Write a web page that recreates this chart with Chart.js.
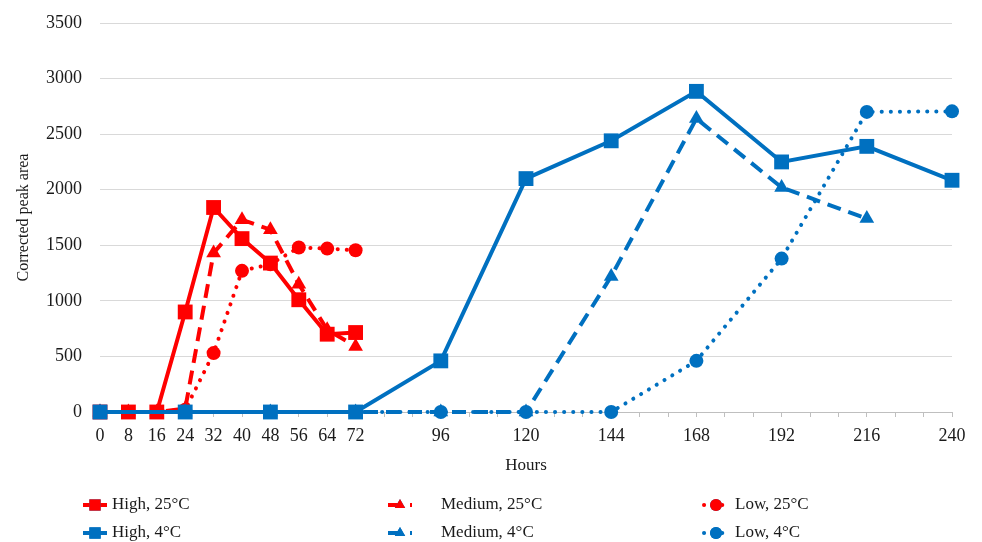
<!DOCTYPE html>
<html>
<head>
<meta charset="utf-8">
<script src="https://cdn.jsdelivr.net/npm/chart.js@4"></script>
<style>
  body { margin: 0; background: #fff; }
  #wrap { width: 982px; height: 542px; }
</style>
</head>
<body>
<div id="wrap"><canvas id="chart" width="982" height="542"></canvas></div>
<script>
// hours sampled for each temperature
var hours25 = [0, 8, 16, 24, 32, 40, 48, 56, 64, 72];
var hours4 = [0, 24, 48, 72, 96, 120, 144, 168, 192, 216, 240];

// corrected peak area values
var high25 = [0, 0, 0, 900, 1840, 1560, 1340, 1010, 700, 715];
var medium25 = [0, 0, 0, 30, 1430, 1730, 1640, 1150, 740, 590];
var low25 = [0, 0, 0, 20, 530, 1270, 1330, 1480, 1470, 1455];
var high4 = [0, 0, 0, 0, 460, 2100, 2440, 2885, 2250, 2390, 2085];
var medium4 = [0, 0, 0, 0, 0, 0, 1220, 2640, 2020, 1740, null];
var low4 = [0, 0, 0, 0, 0, 0, 0, 460, 1380, 2700, 2705];

// labelled hours on the x axis (tick marks every 8 h)
var xLabels = [0, 8, 16, 24, 32, 40, 48, 56, 64, 72, 96, 120, 144, 168, 192, 216, 240];

var RED = '#ff0000';
var BLUE = '#0070c0';
var FONT = "'Liberation Serif', 'Times New Roman', serif";

function pts(xs, ys) {
  var out = [];
  for (var i = 0; i < xs.length; i++) {
    if (ys[i] !== null) out.push({x: xs[i], y: ys[i]});
  }
  return out;
}

function series(label, xs, ys, color, style, kind, order) {
  var r = 7;
  if (style == 'rect') r = 10.5;
  if (style == 'triangle') r = 8.5;
  var ds = {
    label: label,
    data: pts(xs, ys),
    borderColor: color,
    backgroundColor: color,
    pointBackgroundColor: color,
    pointBorderColor: color,
    pointBorderWidth: 0,
    borderWidth: 4,
    pointStyle: style,
    pointRadius: r,
    pointHoverRadius: r,
    tension: 0,
    fill: false,
    clip: false,
    order: order
  };
  if (kind == 'dash') {
    ds.borderDash = [14, 8];
  } else if (kind == 'dot') {
    ds.borderDash = [0.1, 9];
    ds.borderCapStyle = 'round';
  }
  return ds;
}

// draw the legend in a 3 x 2 grid below the axis
var gridLegend = {
  id: 'gridLegend',
  afterDraw: function(chart) {
    var ctx = chart.ctx;
    var markX = [95, 400, 716];
    var textX = [112, 441, 735];
    var rowY = [505, 533];
    chart.data.datasets.forEach(function(ds, i) {
      var col = i % 3, row = Math.floor(i / 3);
      var cx = markX[col], cy = rowY[row];
      ctx.save();
      ctx.strokeStyle = ds.borderColor;
      ctx.lineWidth = ds.borderWidth;
      ctx.lineCap = ds.borderCapStyle || 'butt';
      ctx.setLineDash(ds.borderDash || []);
      ctx.beginPath();
      ctx.moveTo(cx - 12, cy);
      ctx.lineTo(cx + 12, cy);
      ctx.stroke();
      ctx.setLineDash([]);
      var mr = ds.pointStyle == 'rect' ? 8 : 6;
      Chart.helpers.drawPoint(ctx, {pointStyle: ds.pointStyle, radius: mr, borderWidth: 0}, cx, cy);
      ctx.fillStyle = ds.pointBackgroundColor;
      ctx.fill();
      ctx.fillStyle = '#1a1a1a';
      ctx.font = '17px ' + FONT;
      ctx.textBaseline = 'middle';
      ctx.fillText(ds.label, textX[col], cy);
      ctx.restore();
    });
  }
};

var config = {
  type: 'line',
  data: {
    datasets: [
      series('High, 25°C', hours25, high25, RED, 'rect', 'solid', 6),
      series('Medium, 25°C', hours25, medium25, RED, 'triangle', 'dash', 5),
      series('Low, 25°C', hours25, low25, RED, 'circle', 'dot', 4),
      series('High, 4°C', hours4, high4, BLUE, 'rect', 'solid', 1),
      series('Medium, 4°C', hours4, medium4, BLUE, 'triangle', 'dash', 3),
      series('Low, 4°C', hours4, low4, BLUE, 'circle', 'dot', 2)
    ]
  },
  options: {
    responsive: false,
    animation: false,
    layout: { padding: { top: 23, right: 30, bottom: 62, left: 10 } },
    plugins: {
      legend: { display: false },
      tooltip: { enabled: false }
    },
    scales: {
      x: {
        type: 'linear',
        min: 0,
        max: 240,
        afterBuildTicks: function(scale) {
          var t = [];
          for (var v = 0; v <= 240; v += 8) t.push({value: v});
          scale.ticks = t;
        },
        afterFit: function(scale) { scale.height = 68; },
        ticks: {
          autoSkip: false,
          maxRotation: 0,
          color: '#1a1a1a',
          font: { family: FONT, size: 18 },
          padding: 8,
          callback: function(v) { return xLabels.indexOf(v) >= 0 ? String(v) : ''; }
        },
        grid: { drawOnChartArea: false, drawTicks: true, tickLength: 5, color: '#bfbfbf' },
        border: { color: '#bfbfbf', width: 1 },
        title: {
          display: true,
          text: 'Hours',
          color: '#1a1a1a',
          font: { family: FONT, size: 17 },
          padding: { top: 4 }
        }
      },
      y: {
        min: 0,
        max: 3500,
        afterFit: function(scale) {
          scale.width = 90;
          scale.paddingTop = 0;
          scale.paddingBottom = 0;
        },
        ticks: {
          stepSize: 500,
          color: '#1a1a1a',
          font: { family: FONT, size: 18 },
          padding: 18,
          callback: function(v) { return String(v); }
        },
        grid: { color: '#d9d9d9', drawTicks: false },
        border: { display: false },
        title: {
          display: true,
          text: 'Corrected peak area',
          color: '#1a1a1a',
          font: { family: FONT, size: 16 },
          padding: { bottom: 0 }
        }
      }
    }
  },
  plugins: [gridLegend]
};

var ctx = document.getElementById('chart').getContext('2d');
window.myChart = new Chart(ctx, config);
</script>
</body>
</html>
